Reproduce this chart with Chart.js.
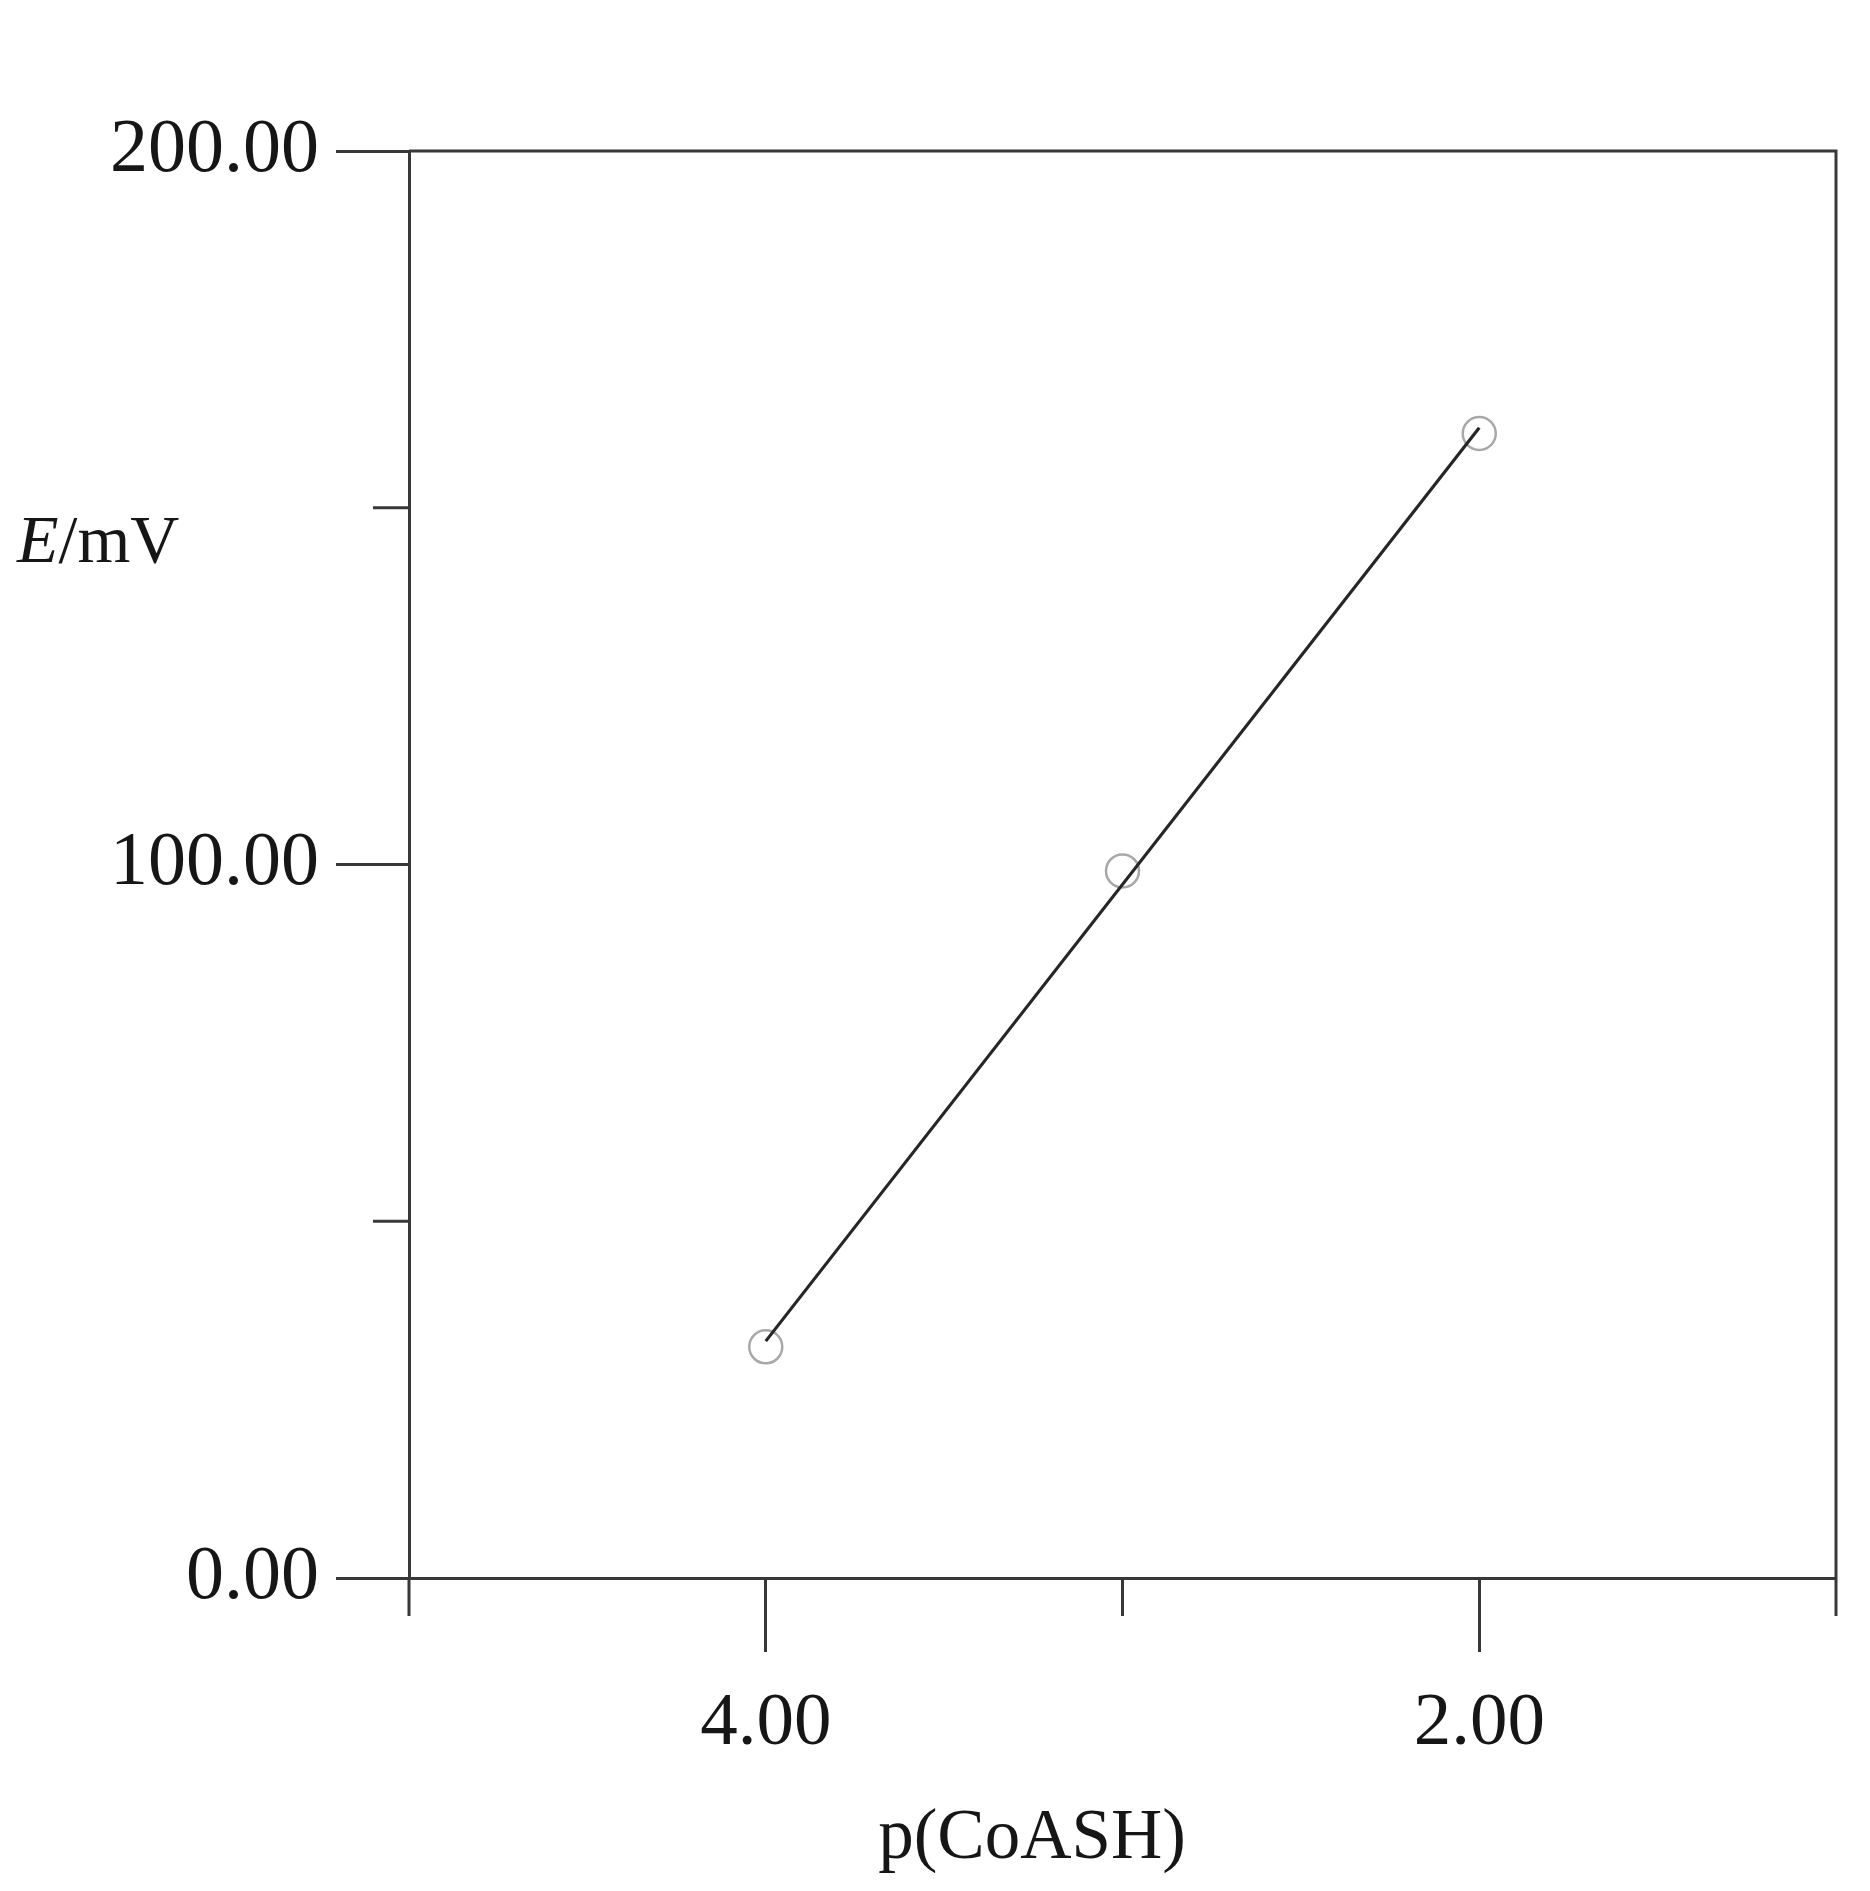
<!DOCTYPE html>
<html>
<head>
<meta charset="utf-8">
<title>E vs p(CoASH)</title>
<script src="https://cdn.jsdelivr.net/npm/chart.js@4.4.1/dist/chart.umd.min.js"></script>
<style>
    html, body { margin: 0; padding: 0; background: #fff; }
    #wrap { width: 1870px; height: 1891px; }
</style>
</head>
<body>
<div id="wrap"><canvas id="myChart" width="1870" height="1891"></canvas></div>
<script>
const pCoASH = [4.00, 3.00, 2.00];
const potential = [32.4, 99.1, 160.4];

// straight fit line, read at its two ends
const fitX = [4.00, 2.00];
const fitY = [33.2, 161.2];

// axis ticks; only some of them carry a label
const xTicks = [5, 4, 3, 2, 1];
const xLabelled = [4, 2];
const yTicks = [0, 50, 100, 150, 200];
const yLabelled = [0, 100, 200];

const axisColor = "#383838";
const textColor = "#161616";
const serif = "'Liberation Serif', 'Times New Roman', serif";

function init() {
    const canvas = document.getElementById("myChart");
    Chart.defaults.font.family = serif;
    Chart.defaults.color = textColor;

    // box edges, short (unlabelled) ticks and the two axis titles
    const frame = {
        id: "frame",
        afterDraw(chart) {
            const ctx = chart.ctx;
            const { left, right, top, bottom } = chart.chartArea;
            const xs = chart.scales.x;
            const ys = chart.scales.y;
            ctx.save();
            ctx.strokeStyle = axisColor;
            ctx.lineWidth = 3;
            ctx.beginPath();
            ctx.moveTo(left, top);
            ctx.lineTo(right, top);
            ctx.lineTo(right, bottom);
            yTicks.filter(v => !yLabelled.includes(v)).forEach(v => {
                const py = ys.getPixelForValue(v);
                ctx.moveTo(left - 36, py);
                ctx.lineTo(left, py);
            });
            xTicks.filter(v => !xLabelled.includes(v)).forEach(v => {
                const px = xs.getPixelForValue(v);
                ctx.moveTo(px, bottom);
                ctx.lineTo(px, bottom + 38);
            });
            ctx.stroke();

            // y title: italic E, then /mV
            ctx.fillStyle = textColor;
            ctx.textBaseline = "alphabetic";
            ctx.textAlign = "left";
            ctx.font = `italic 68px ${serif}`;
            ctx.fillText("E", 17, 562);
            const eW = ctx.measureText("E").width;
            ctx.font = `68px ${serif}`;
            ctx.fillText("/mV", 17 + eW, 562);

            // x title
            ctx.textAlign = "center";
            ctx.font = `71px ${serif}`;
            ctx.fillText("p(CoASH)", 1032, 1858);
            ctx.restore();
        }
    };

    new Chart(canvas, {
        type: "scatter",
        data: {
            datasets: [
                {
                    label: "fit",
                    type: "line",
                    data: fitX.map((x, i) => ({ x: x, y: fitY[i] })),
                    showLine: true,
                    borderColor: "#262626",
                    borderWidth: 3.2,
                    pointRadius: 0,
                    fill: false
                },
                {
                    label: "E",
                    data: pCoASH.map((x, i) => ({ x: x, y: potential[i] })),
                    pointStyle: "circle",
                    pointRadius: 16.5,
                    pointBorderWidth: 2.5,
                    pointBorderColor: "#a8a8a8",
                    pointBackgroundColor: "rgba(0,0,0,0)",
                    showLine: false
                }
            ]
        },
        options: {
            responsive: false,
            animation: false,
            devicePixelRatio: 1,
            layout: { padding: { top: 151, right: 34, left: 0, bottom: 0 } },
            plugins: {
                legend: { display: false },
                tooltip: { enabled: false },
                title: { display: false }
            },
            scales: {
                x: {
                    type: "linear",
                    reverse: true,
                    min: 1,
                    max: 5,
                    afterFit: scale => { scale.height = 313; },
                    afterBuildTicks: scale => { scale.ticks = xTicks.map(v => ({ value: v })); },
                    ticks: {
                        autoSkip: false,
                        maxRotation: 0,
                        padding: 27,
                        font: { size: 75 },
                        color: textColor,
                        callback: v => xLabelled.includes(v) ? v.toFixed(2) : ""
                    },
                    grid: {
                        display: true,
                        drawOnChartArea: false,
                        drawTicks: true,
                        tickLength: 74,
                        tickWidth: 3,
                        tickColor: c => xLabelled.includes(c.tick.value) ? axisColor : "rgba(0,0,0,0)"
                    },
                    border: { display: true, color: axisColor, width: 3 }
                },
                y: {
                    type: "linear",
                    min: 0,
                    max: 200,
                    afterFit: scale => { scale.width = 409; },
                    afterBuildTicks: scale => { scale.ticks = yTicks.map(v => ({ value: v })); },
                    ticks: {
                        autoSkip: false,
                        padding: 17,
                        font: { size: 76 },
                        color: textColor,
                        callback: v => yLabelled.includes(v) ? v.toFixed(2) : ""
                    },
                    grid: {
                        display: true,
                        drawOnChartArea: false,
                        drawTicks: true,
                        tickLength: 73,
                        tickWidth: 3,
                        tickColor: c => yLabelled.includes(c.tick.value) ? axisColor : "rgba(0,0,0,0)"
                    },
                    border: { display: true, color: axisColor, width: 3 }
                }
            }
        },
        plugins: [frame]
    });
}

document.addEventListener("DOMContentLoaded", init);
</script>
</body>
</html>
